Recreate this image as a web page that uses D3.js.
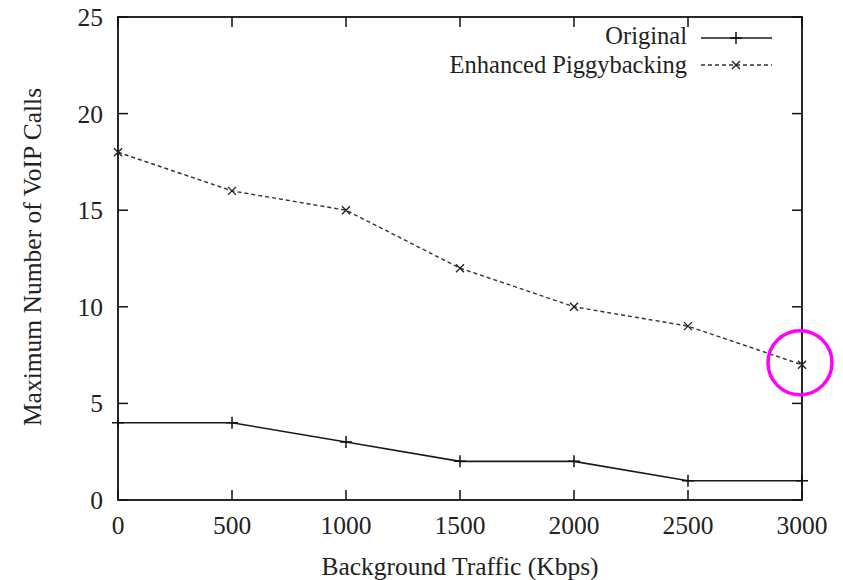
<!DOCTYPE html>
<html>
<head>
<meta charset="utf-8">
<script src="https://cdn.jsdelivr.net/npm/d3@7"></script>
<style>
  html, body { margin: 0; padding: 0; background: #fff; }
  svg { display: block; }
  text { font-family: "Liberation Serif", "DejaVu Serif", serif; fill: #222; }
</style>
</head>
<body>
<svg id="chart" width="843" height="580"></svg>
<script>
// Background traffic levels (Kbps)
const traffic = [0, 500, 1000, 1500, 2000, 2500, 3000];
// Maximum number of VoIP calls supported
const original = [4, 4, 3, 2, 2, 1, 1];
const enhanced = [18, 16, 15, 12, 10, 9, 7];
const seriesNames = ["Original", "Enhanced Piggybacking"];
const xTicks = [0, 500, 1000, 1500, 2000, 2500, 3000];
const yTicks = [0, 5, 10, 15, 20, 25];

const svg = d3.select("#chart");
const L = 118, R = 802, T = 17, B = 500;
const FS = 25.5;

const x = d3.scaleLinear().domain([0, 3000]).range([L, R]);
const y = d3.scaleLinear().domain([0, 25]).range([B, T]);

const tickLen = 10;
const g = svg.append("g");

// Inward ticks on all four sides
xTicks.forEach(v => {
  g.append("line").attr("x1", x(v)).attr("x2", x(v)).attr("y1", B).attr("y2", B - tickLen)
    .attr("stroke", "#111").attr("stroke-width", 1.5);
  g.append("line").attr("x1", x(v)).attr("x2", x(v)).attr("y1", T).attr("y2", T + tickLen)
    .attr("stroke", "#111").attr("stroke-width", 1.5);
  g.append("text").attr("x", x(v)).attr("y", 534).attr("text-anchor", "middle")
    .attr("font-size", FS).text(v);
});
yTicks.forEach(v => {
  g.append("line").attr("x1", L).attr("x2", L + tickLen).attr("y1", y(v)).attr("y2", y(v))
    .attr("stroke", "#111").attr("stroke-width", 1.5);
  g.append("line").attr("x1", R).attr("x2", R - tickLen).attr("y1", y(v)).attr("y2", y(v))
    .attr("stroke", "#111").attr("stroke-width", 1.5);
  g.append("text").attr("x", 103).attr("y", y(v) + 9).attr("text-anchor", "end")
    .attr("font-size", FS).text(v);
});

// Frame
g.append("rect").attr("x", L).attr("y", T).attr("width", R - L).attr("height", B - T)
  .attr("fill", "none").attr("stroke", "#111").attr("stroke-width", 1.8);

// Axis titles
svg.append("text").attr("x", 460).attr("y", 575).attr("text-anchor", "middle")
  .attr("font-size", FS).text("Background Traffic (Kbps)");
svg.append("text").attr("transform", `translate(41,257) rotate(-90)`)
  .attr("text-anchor", "middle").attr("font-size", FS).text("Maximum Number of VoIP Calls");

const line = d3.line().x(d => x(d[0])).y(d => y(d[1]));
const origPts = traffic.map((t, i) => [t, original[i]]);
const enhPts = traffic.map((t, i) => [t, enhanced[i]]);

function plus(sel, cx, cy, s) {
  sel.append("path").attr("d", `M${cx - s},${cy}H${cx + s}M${cx},${cy - s}V${cy + s}`)
    .attr("stroke", "#111").attr("stroke-width", 1.5).attr("fill", "none");
}
function cross(sel, cx, cy, s) {
  sel.append("path").attr("d", `M${cx - s},${cy - s}L${cx + s},${cy + s}M${cx - s},${cy + s}L${cx + s},${cy - s}`)
    .attr("stroke", "#222").attr("stroke-width", 1.4).attr("fill", "none");
}

// Original series
svg.append("path").datum(origPts).attr("d", line).attr("fill", "none")
  .attr("stroke", "#1a1a1a").attr("stroke-width", 1.6);
origPts.forEach(p => plus(svg, x(p[0]), y(p[1]), 6));

// Enhanced Piggybacking series
svg.append("path").datum(enhPts).attr("d", line).attr("fill", "none")
  .attr("stroke", "#333").attr("stroke-width", 1.4).attr("stroke-dasharray", "4,3");
enhPts.forEach(p => cross(svg, x(p[0]), y(p[1]), 4));

// Legend
const LFS = 24.5;
const lg = svg.append("g");
lg.append("text").attr("x", 687).attr("y", 44).attr("text-anchor", "end").attr("font-size", LFS).text(seriesNames[0]);
lg.append("line").attr("x1", 701).attr("x2", 772).attr("y1", 38).attr("y2", 38)
  .attr("stroke", "#1a1a1a").attr("stroke-width", 1.6);
plus(lg, 736, 38, 6);
lg.append("text").attr("x", 687).attr("y", 73).attr("text-anchor", "end").attr("font-size", LFS).text(seriesNames[1]);
lg.append("line").attr("x1", 701).attr("x2", 772).attr("y1", 65).attr("y2", 65)
  .attr("stroke", "#333").attr("stroke-width", 1.4).attr("stroke-dasharray", "4,3");
cross(lg, 736, 65, 4);

// Highlight ring around the last Enhanced point
svg.append("circle").attr("cx", x(3000) - 2).attr("cy", y(7) - 2).attr("r", 32)
  .attr("fill", "none").attr("stroke", "#ff00ff").attr("stroke-width", 3.5);
</script>
</body>
</html>
